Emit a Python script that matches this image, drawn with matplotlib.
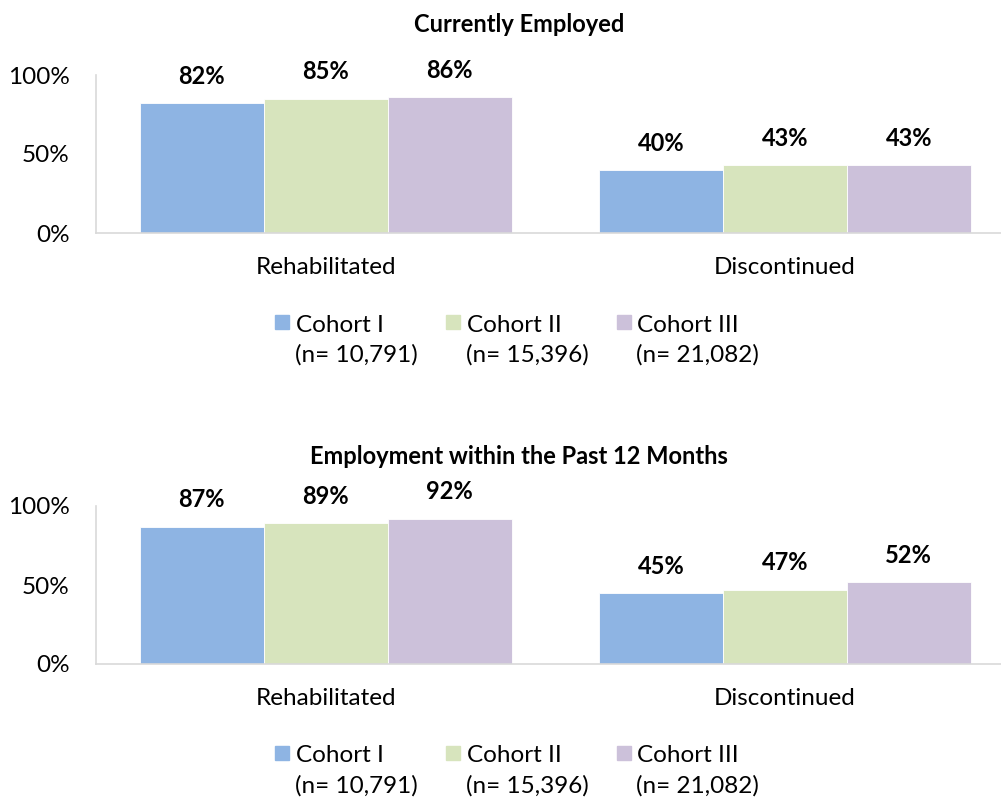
import matplotlib.pyplot as plt
import numpy as np
from matplotlib.patches import Rectangle

plt.rcParams['font.family'] = ['Lato', 'DejaVu Sans']

categories = ['Rehabilitated', 'Discontinued']
cohorts = ['Cohort I', 'Cohort II', 'Cohort III']
cohort_n = ['(n= 10,791)', '(n= 15,396)', '(n= 21,082)']
colors = ['#8EB4E3', '#D7E4BD', '#CCC1DA']

titles = ['Currently Employed', 'Employment within the Past 12 Months']
current_emp = [[82, 40], [85, 43], [86, 43]]     # per cohort: rehab, discont
past12_emp = [[87, 45], [89, 47], [92, 52]]
panels = [current_emp, past12_emp]

W, H = 1001, 799
fig = plt.figure(figsize=(W / 100, H / 100), dpi=100)

def fx(px):
    return px / W

def fy(py):
    return 1 - py / H

x = np.arange(len(categories))
bw = 0.27
offsets = [0, 431]

for p, data in enumerate(panels):
    off = offsets[p]
    ax = fig.add_axes([fx(96), fy(233 + off), fx(918.5), 158 / H])
    for i, vals in enumerate(data):
        v = np.array(vals) / 100
        bars = ax.bar(x + (i - 1) * bw, v, bw, color=colors[i],
                      edgecolor='white', linewidth=0.6)
        for b, val in zip(bars, vals):
            ax.annotate(f'{val}%', (b.get_x() + b.get_width() / 2, b.get_height()),
                        xytext=(0, 11), textcoords='offset points',
                        ha='center', va='bottom', fontsize=17, fontweight='bold')
    ax.set_xlim(-0.5, 1.5)
    ax.set_ylim(0, 1)
    ax.set_yticks([0, 0.5, 1])
    ax.set_yticklabels(['0%', '50%', '100%'])
    ax.set_xticks(x)
    ax.set_xticklabels(categories)
    ax.tick_params(length=0, labelsize=17.5)
    ax.tick_params(axis='y', pad=19)
    ax.tick_params(axis='x', pad=17)
    for s in ['top', 'right']:
        ax.spines[s].set_visible(False)
    for s in ['left', 'bottom']:
        ax.spines[s].set_color('#D9D9D9')
        ax.spines[s].set_linewidth(1.2)

    fig.text(fx(519), fy(25 + off), titles[p], ha='center', va='center',
             fontsize=17, fontweight='bold')

    # legend
    sq_x = [275, 446, 617]
    tx_x = [296, 467, 637]
    for i in range(3):
        fig.patches.append(Rectangle((fx(sq_x[i]), fy(329 + off)), fx(14), 14 / H,
                                     transform=fig.transFigure, color=colors[i]))
        fig.text(fx(tx_x[i]), fy(325 + off), cohorts[i], ha='left', va='center', fontsize=17.5)
        fig.text(fx(tx_x[i] - 1), fy(355 + off), cohort_n[i], ha='left', va='center', fontsize=17.5)

plt.savefig('out.png', dpi=100)
